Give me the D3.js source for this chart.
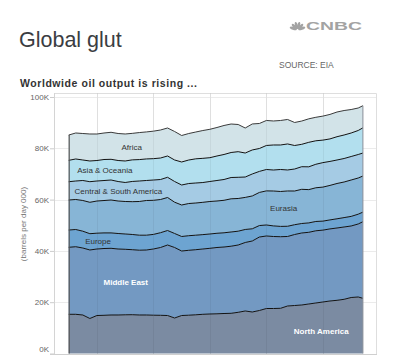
<!DOCTYPE html>
<html>
<head>
<meta charset="utf-8">
<script src="https://cdnjs.cloudflare.com/ajax/libs/d3/7.8.5/d3.min.js"></script>
<style>
  body { margin: 0; background: #fff; }
  text { font-family: Arial, "Liberation Sans", sans-serif; }
</style>
</head>
<body>
<div class="chart"></div>
<script>
// quarterly samples (thousand barrels per day)
var months = ["2005-01","2005-04","2005-07","2005-10","2006-01","2006-04","2006-07","2006-10",
  "2007-01","2007-04","2007-07","2007-10","2008-01","2008-04","2008-07","2008-10",
  "2009-01","2009-04","2009-07","2009-10","2010-01","2010-04","2010-07","2010-10",
  "2011-01","2011-04","2011-07","2011-10","2012-01","2012-04","2012-07","2012-10",
  "2013-01","2013-04","2013-07","2013-10","2014-01","2014-04","2014-07","2014-10",
  "2015-01","2015-04","2015-06"];

var northAmerica = [15.28,15.28,15.01,13.65,14.81,14.89,15.01,15.01,15.09,15.13,15.01,15.01,14.93,14.89,14.81,13.84,
  14.81,14.93,15.09,15.28,15.40,15.48,15.59,15.67,16.06,16.57,16.18,16.76,17.54,17.54,17.62,18.52,
  18.71,18.91,19.30,19.69,20.08,20.47,20.74,21.13,21.83,22.03,21.52];
var middleEast = [26.12,26.35,26.12,26.71,25.93,26.04,26.00,25.73,25.54,25.34,25.26,25.34,25.81,26.43,27.49,27.49,
  25.15,25.30,25.38,25.46,25.61,25.85,25.93,26.16,26.24,26.71,27.68,28.65,28.27,28.07,27.91,27.10,
  27.68,28.07,27.95,28.15,28.02,28.10,28.19,28.19,27.88,28.46,29.86];
var europe = [6.74,6.71,6.55,6.35,6.16,6.08,6.00,6.04,5.96,5.93,5.85,5.77,5.69,5.77,5.65,5.46,
  5.65,5.69,5.65,5.61,5.58,5.54,5.54,5.54,5.38,5.07,4.76,4.48,4.29,4.13,4.02,3.98,
  3.82,3.70,3.66,3.63,3.51,3.51,3.59,3.66,3.74,3.82,3.74];
var eurasia = [11.70,11.70,11.97,12.24,12.55,12.63,12.83,12.67,12.67,12.79,13.14,13.53,13.29,12.94,12.87,12.20,
  12.28,12.55,12.55,12.59,12.67,12.59,12.67,12.94,12.75,12.50,12.80,12.90,13.30,13.61,13.61,13.76,
  13.14,13.33,12.98,13.14,13.26,13.45,13.76,13.88,14.19,14.11,14.07];
var centralSouthAmerica = [7.13,7.21,7.80,8.03,7.80,7.80,7.80,7.60,7.41,7.88,7.99,7.80,7.91,7.80,7.88,8.07,
  7.80,7.80,7.80,7.72,7.80,7.99,8.11,8.30,8.27,7.95,8.57,8.20,8.34,8.19,8.58,8.19,
  8.58,8.81,8.89,9.16,9.55,9.36,9.16,9.16,9.16,9.16,8.97];
var asiaOceania = [8.34,8.58,7.99,8.07,7.99,8.19,8.07,8.19,8.38,8.42,8.35,8.40,8.33,8.38,8.30,8.38,
  8.97,9.16,9.43,9.43,9.28,9.55,9.75,9.75,9.98,9.36,9.36,8.93,9.36,9.75,9.55,10.14,
  9.16,8.73,9.55,9.16,8.77,8.77,9.08,9.16,9.16,9.36,9.82];
var africa = [9.86,10.14,10.33,10.53,10.33,10.33,10.53,10.53,10.53,10.33,10.53,10.53,10.72,10.92,10.92,11.11,
  10.33,10.33,10.45,10.84,11.07,11.11,11.31,11.11,10.60,9.75,10.14,9.75,9.75,9.36,9.55,9.55,
  8.97,9.08,9.16,9.16,9.36,9.55,9.63,9.55,9.16,8.77,8.62];

var regions = ["North America", "Middle East", "Europe", "Eurasia", "Central & South America", "Asia & Oceania", "Africa"];
var series = [northAmerica, middleEast, europe, eurasia, centralSouthAmerica, asiaOceania, africa];
var colors = ["#7b8ba2", "#7399c2", "#6da4d1", "#87b5d6", "#a5cbe4", "#b2dfee", "#d2e3e8"];

var yTicks = [0, 20, 40, 60, 80, 100];
var gridYears = [2006, 2008, 2010, 2012, 2014];

// where each region name sits: [decimal year, value], text colour, weight
var labelSpots = [
  { name: "Africa", at: [2007.23, 79.3], fill: "#333", weight: "normal" },
  { name: "Asia & Oceania", at: [2006.28, 70.4], fill: "#333", weight: "normal" },
  { name: "Central & South America", at: [2006.76, 62.2], fill: "#333", weight: "normal" },
  { name: "Eurasia", at: [2012.61, 55.5], fill: "#333", weight: "normal" },
  { name: "Europe", at: [2006.04, 42.7], fill: "#333", weight: "normal" },
  { name: "Middle East", at: [2007.02, 26.7], fill: "#fff", weight: "bold" },
  { name: "North America", at: [2013.94, 7.6], fill: "#fff", weight: "bold" }
];

var width = 400, height = 361;
var plot = { left: 54, right: 376, top: 93, bottom: 354 };

var svg = d3.select(".chart").append("svg")
    .attr("width", width)
    .attr("height", height);

var rows = months.map(function(m, i) {
    var p = m.split("-");
    var row = { t: +p[0] + (+p[1] - 1) / 12 };
    regions.forEach(function(r, j) { row[r] = series[j][i]; });
    return row;
});

var x = d3.scaleLinear().domain([2004.48, 2015.88]).range([plot.left, plot.right]);
var y = d3.scaleLinear().domain([0, 100]).range([353.5, 97]);

// gridlines
svg.append("g")
    .selectAll("line")
    .data(yTicks.slice(1))
    .join("line")
    .attr("x1", plot.left).attr("x2", plot.right)
    .attr("y1", d => Math.round(y(d)) + 0.5).attr("y2", d => Math.round(y(d)) + 0.5)
    .attr("stroke", "#ebebeb");

svg.append("g")
    .selectAll("line")
    .data(gridYears)
    .join("line")
    .attr("x1", d => Math.round(x(d)) + 0.5).attr("x2", d => Math.round(x(d)) + 0.5)
    .attr("y1", plot.top).attr("y2", plot.bottom)
    .attr("stroke", "#ebebeb");

// frame
svg.append("path")
    .attr("d", `M${plot.left},${plot.top + 0.5}H${plot.right + 0.5}V${plot.bottom}`)
    .attr("fill", "none")
    .attr("stroke", "#dedede");

// areas
var stack = d3.stack().keys(regions);
var layers = stack(rows);

var area = d3.area()
    .x(d => x(d.data.t))
    .y0(d => y(d[0]))
    .y1(d => y(d[1]));

var line = d3.line()
    .x(d => x(d.data.t))
    .y(d => y(d[1]));

svg.append("g")
    .selectAll("path")
    .data(layers)
    .join("path")
    .attr("d", area)
    .attr("fill", (d, i) => colors[i]);

// faint grid showing through
var over = svg.append("g").attr("stroke", "rgba(0,0,0,0.05)");
over.selectAll(".gx")
    .data(gridYears)
    .join("line")
    .attr("x1", d => Math.round(x(d)) + 0.5).attr("x2", d => Math.round(x(d)) + 0.5)
    .attr("y1", plot.top).attr("y2", plot.bottom);

// layer edges
svg.append("g")
    .selectAll("path")
    .data(layers)
    .join("path")
    .attr("d", line)
    .attr("fill", "none")
    .attr("stroke", (d, i) => i === layers.length - 1 ? "#3a3a3a" : "#111")
    .attr("stroke-width", 1);

var first = rows[0].t, last = rows[rows.length - 1].t;
var top0 = layers[layers.length - 1][0][1];
var top1 = layers[layers.length - 1][rows.length - 1][1];
svg.append("line")
    .attr("x1", x(first) + 0.5).attr("x2", x(first) + 0.5)
    .attr("y1", y(top0)).attr("y2", y(0))
    .attr("stroke", "#555").attr("stroke-width", 1.2);
svg.append("line")
    .attr("x1", x(last)).attr("x2", x(last))
    .attr("y1", y(top1)).attr("y2", y(0))
    .attr("stroke", "#8a8f99").attr("stroke-width", 1);

// region labels
svg.append("g")
    .selectAll("text")
    .data(labelSpots)
    .join("text")
    .attr("x", d => x(d.at[0]))
    .attr("y", d => y(d.at[1]))
    .attr("text-anchor", "middle")
    .attr("font-size", 8)
    .attr("font-weight", d => d.weight)
    .attr("fill", d => d.fill)
    .text(d => d.name);

// y axis
var yAxis = svg.append("g")
    .attr("transform", `translate(${plot.left},0)`)
    .call(d3.axisLeft(y).tickValues(yTicks).tickFormat(d => d + "K").tickSize(4).tickPadding(1));
yAxis.select(".domain").remove();
yAxis.selectAll(".tick line").attr("stroke", "#ccc");
yAxis.selectAll(".tick text")
    .attr("fill", "#666")
    .attr("font-size", 8)
    .attr("font-family", "Arial, 'Liberation Sans', sans-serif")
    .attr("dy", d => d === 0 ? "-0.3em" : "0.32em");

svg.append("line")
    .attr("x1", plot.left + 0.5).attr("x2", plot.left + 0.5)
    .attr("y1", plot.top).attr("y2", plot.bottom)
    .attr("stroke", "#d4d4d4");
svg.append("line")
    .attr("x1", 50).attr("x2", plot.right + 1)
    .attr("y1", plot.bottom + 0.5).attr("y2", plot.bottom + 0.5)
    .attr("stroke", "#cfcfcf");

svg.append("text")
    .attr("transform", "translate(26,224) rotate(-90)")
    .attr("text-anchor", "middle")
    .attr("font-size", 8)
    .attr("fill", "#777")
    .text("(barrels per day 000)");

// titles
svg.append("text")
    .attr("x", 19).attr("y", 47)
    .attr("font-family", "'Open Sans', sans-serif")
    .attr("font-size", 21.5)
    .attr("fill", "#3a3d42")
    .text("Global glut");

svg.append("text")
    .attr("x", 20).attr("y", 86.5)
    .attr("font-family", "'DejaVu Sans', sans-serif")
    .attr("font-weight", "bold")
    .attr("font-size", 10.5)
    .attr("textLength", 177)
    .attr("lengthAdjust", "spacing")
    .attr("fill", "#333")
    .text("Worldwide oil output is rising ...");

svg.append("text")
    .attr("x", 279).attr("y", 68)
    .attr("font-size", 8.5)
    .attr("fill", "#666")
    .text("SOURCE: EIA");

// CNBC mark
var logo = svg.append("g").attr("fill", "#a3a3a3");
d3.range(6).forEach(function(i) {
    var a = -70 + i * 28;
    logo.append("ellipse")
        .attr("cx", 0).attr("cy", -4.6)
        .attr("rx", 1.4).attr("ry", 3.6)
        .attr("transform", `translate(297.5,30) rotate(${a})`);
});
logo.append("text")
    .attr("x", 306).attr("y", 29.5)
    .attr("font-size", 10.5)
    .attr("font-weight", "bold")
    .attr("textLength", 56)
    .attr("lengthAdjust", "spacingAndGlyphs")
    .text("CNBC");
</script>
</body>
</html>
